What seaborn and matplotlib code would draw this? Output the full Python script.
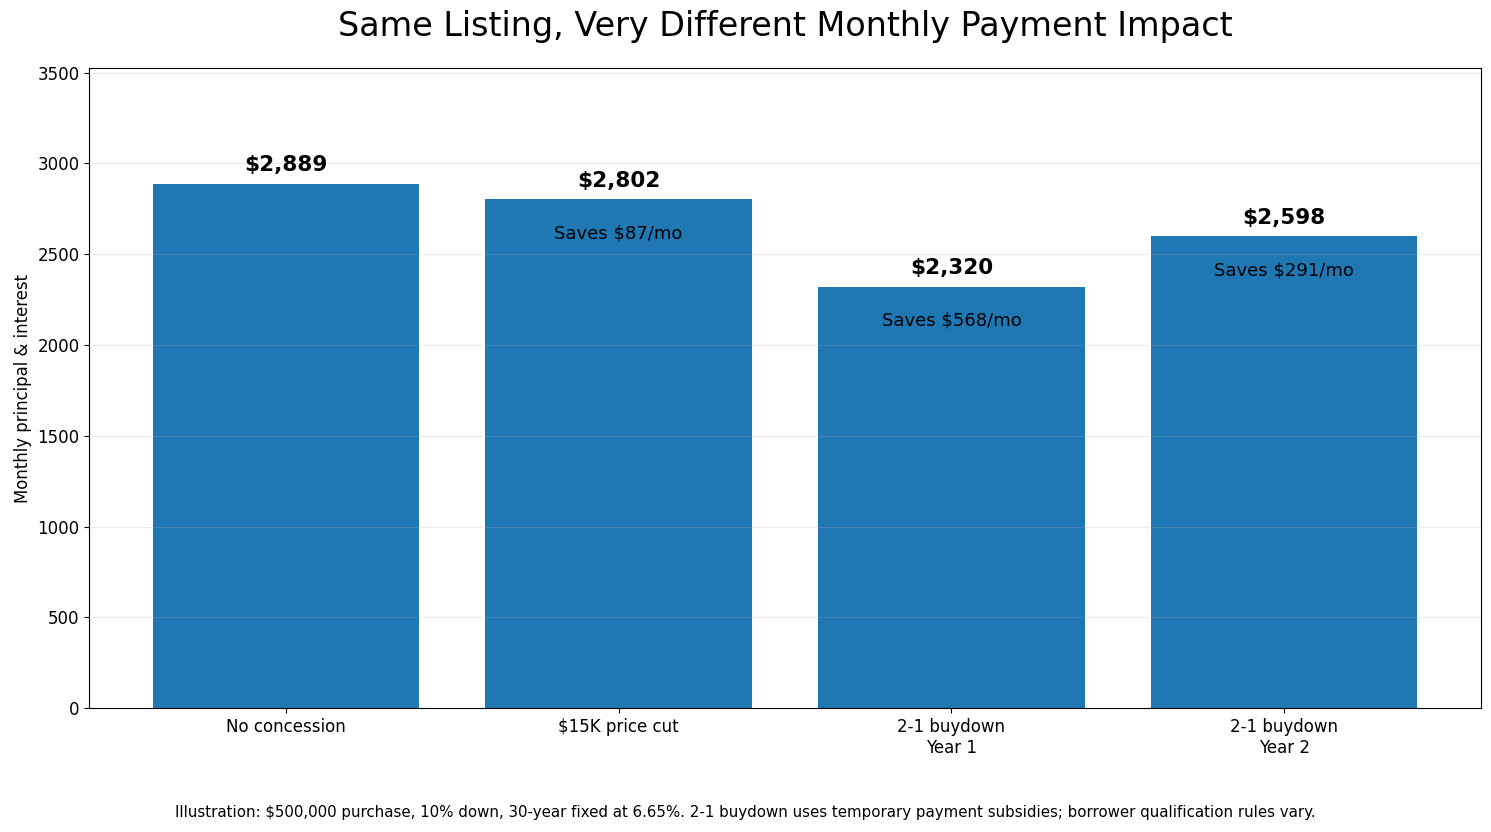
import matplotlib
matplotlib.use('Agg')
import matplotlib.pyplot as plt
import seaborn as sns
import pandas as pd

# Chart data
scenarios = ['No concession', '$15K price cut', '2-1 buydown\nYear 1', '2-1 buydown\nYear 2']
payments = [2889, 2802, 2320, 2598]
savings = [0, 87, 568, 291]

df = pd.DataFrame({'Scenario': scenarios, 'Payment': payments})

plt.rcParams['font.family'] = ['DejaVu Sans']

fig, ax = plt.subplots(figsize=(14.91, 8.32), dpi=100)
sns.barplot(data=df, x='Scenario', y='Payment', color='#1f77b4', saturation=1,
            width=0.8, linewidth=0, ax=ax)

top = max(payments)
ax.set_ylim(0, top * 1.22)
ax.set_xlim(-0.59, 3.59)
ax.grid(axis='y', alpha=0.25)
ax.set_axisbelow(False)

for i, (p, s) in enumerate(zip(payments, savings)):
    ax.text(i, p + top * 0.016, f'${p:,.0f}', ha='center', va='bottom',
            fontsize=15.5, fontweight='bold')
    if s > 0:
        ax.text(i, p - top * 0.065, f'Saves ${s}/mo', ha='center', va='center',
                fontsize=13)

ax.set_title('Same Listing, Very Different Monthly Payment Impact', fontsize=24, pad=23)
ax.set_xlabel('')
ax.set_ylabel('Monthly principal & interest', fontsize=11.9)
ax.tick_params(labelsize=12)

fig.text(0.5, 0.018, 'Illustration: $500,000 purchase, 10% down, 30-year fixed at 6.65%. '
         '2-1 buydown uses temporary payment subsidies; borrower qualification rules vary.',
         ha='center', fontsize=10.8)

plt.subplots_adjust(left=0.06, right=0.993, top=0.918, bottom=0.149)
plt.savefig('out.png', dpi=100)
